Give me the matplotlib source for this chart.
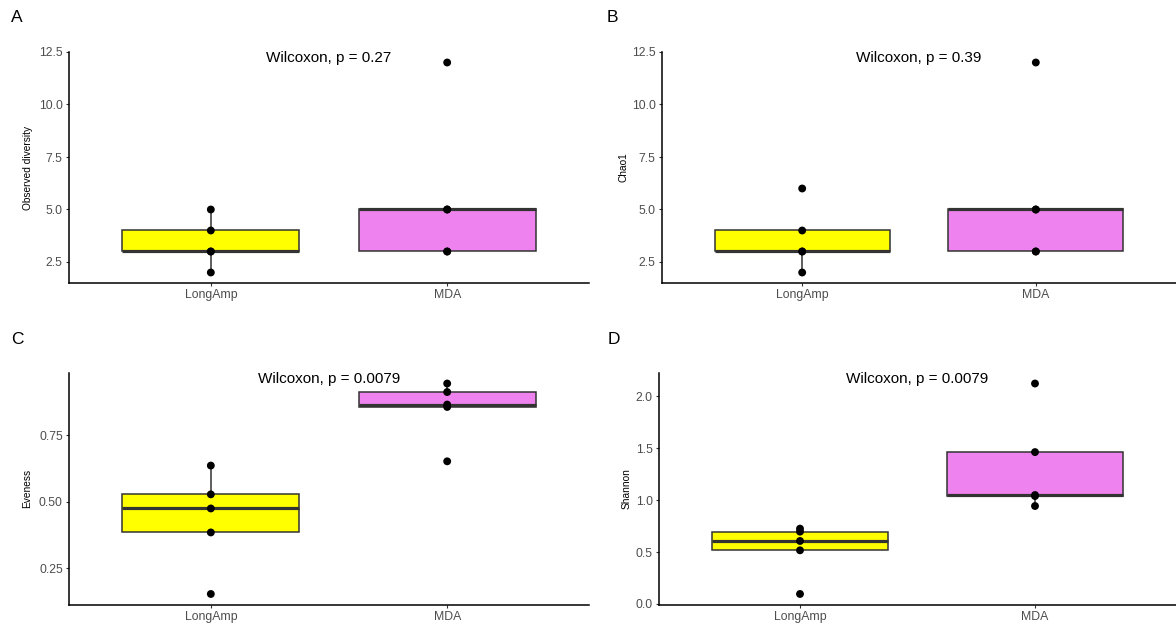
import matplotlib
matplotlib.use('Agg')
import matplotlib.pyplot as plt
from matplotlib.ticker import FormatStrFormatter, MultipleLocator

plt.rcParams['font.family'] = ['Liberation Sans', 'DejaVu Sans']

groups = ['LongAmp', 'MDA']
box_colors = ['#FFFF00', '#EE82EE']

# values
obs_longamp = [2, 3, 3, 4, 5]
obs_mda = [3, 3, 5, 5, 12]
chao_longamp = [2, 3, 3, 4, 6]
chao_mda = [3, 3, 5, 5, 12]
even_longamp = [0.154, 0.385, 0.475, 0.528, 0.636]
even_mda = [0.652, 0.856, 0.865, 0.912, 0.944]
shannon_longamp = [0.096, 0.517, 0.607, 0.697, 0.726]
shannon_mda = [0.944, 1.04, 1.05, 1.464, 2.125]

panels = ['A', 'B', 'C', 'D']
ylabels = ['Observed diversity', 'Chao1', 'Eveness', 'Shannon']
pvals = ['0.27', '0.39', '0.0079', '0.0079']
tick_step = [2.5, 2.5, 0.25, 0.5]
tick_fmt = ['%.1f', '%.1f', '%.2f', '%.1f']
data = [(obs_longamp, obs_mda), (chao_longamp, chao_mda),
        (even_longamp, even_mda), (shannon_longamp, shannon_mda)]

W, H = 1176, 627
fig = plt.figure(figsize=(W / 100, H / 100), dpi=100)

# axes boxes in pixels: left, top, right, bottom
boxes_px = [(69, 52, 589, 283), (662, 52, 1176, 283),
            (69, 373, 589, 604.5), (659, 373, 1176, 604.5)]
letter_px = [(17, 18), (612, 18), (17, 340), (614, 340)]
ylab_x = [-0.070, -0.066, -0.070, -0.053]

for i in range(4):
    l, t, r, b = boxes_px[i]
    ax = fig.add_axes([l / W, 1 - b / H, (r - l) / W, (b - t) / H])
    vals = data[i]

    bp = ax.boxplot(vals, positions=[1, 2], widths=0.75, patch_artist=True,
                    showfliers=False, showcaps=False, whis=1.5,
                    medianprops=dict(color='#333333', linewidth=2.3),
                    whiskerprops=dict(color='#333333', linewidth=1.1),
                    boxprops=dict(edgecolor='#333333', linewidth=1.1))
    for patch, c in zip(bp['boxes'], box_colors):
        patch.set_facecolor(c)

    for k, v in enumerate(vals):
        ax.scatter([k + 1] * len(v), v, s=32, color='black', zorder=5,
                   edgecolors='none')

    lo = min(min(v) for v in vals)
    hi = max(max(v) for v in vals)
    pad = (hi - lo) * 0.05
    ax.set_ylim(lo - pad, hi + pad)
    ax.set_xlim(0.4, 2.6)
    ax.yaxis.set_major_locator(MultipleLocator(tick_step[i]))
    ax.yaxis.set_major_formatter(FormatStrFormatter(tick_fmt[i]))
    ax.set_xticks([1, 2])
    ax.set_xticklabels(groups)

    for s in ['top', 'right']:
        ax.spines[s].set_visible(False)
    for s in ['left', 'bottom']:
        ax.spines[s].set_linewidth(1.1)
        ax.spines[s].set_color('black')
    ax.tick_params(length=2.5, width=0.8, color='#333333',
                   labelsize=8.8, labelcolor='#4D4D4D', pad=2)

    ax.set_ylabel(ylabels[i], fontsize=7.3, color='black')
    ax.yaxis.set_label_coords(ylab_x[i], 0.5)

    yr = (hi + pad) - (lo - pad)
    ax.text(1.5, hi + 0.018 * yr, 'Wilcoxon, p = ' + pvals[i],
            ha='center', va='center', fontsize=11, color='black')

    fig.text(letter_px[i][0] / W, 1 - letter_px[i][1] / H, panels[i],
             ha='center', va='center', fontsize=12.5)

fig.savefig('out.png', dpi=100)
